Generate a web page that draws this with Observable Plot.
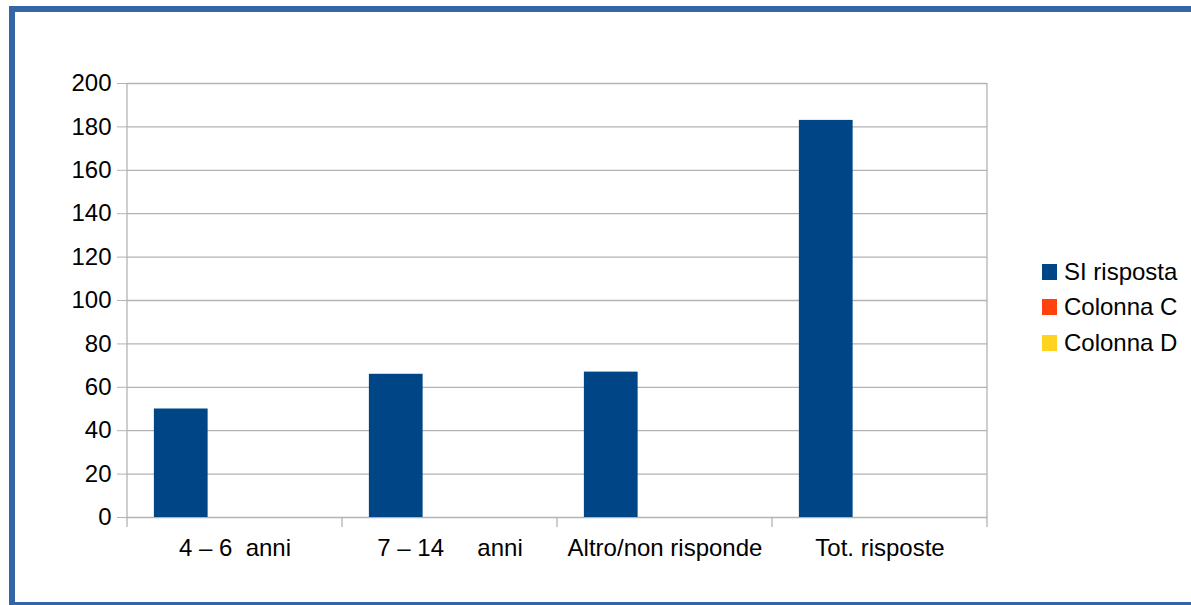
<!DOCTYPE html>
<html>
<head>
<meta charset="utf-8">
<script src="https://cdn.jsdelivr.net/npm/d3@7"></script>
<script src="https://cdn.jsdelivr.net/npm/@observablehq/plot@0.6"></script>
<style>
  html, body { margin: 0; padding: 0; background: #fff; }
  #wrap { position: relative; width: 1191px; height: 605px; overflow: hidden; font-family: "Liberation Sans", Arial, sans-serif; }
  #frame { position: absolute; left: 9px; top: 6px; width: 1220px; height: 602px; border: 6px solid #3465a4; box-sizing: border-box; pointer-events: none; }
  #chart { position: absolute; left: 0; top: 0; }
  #chart svg text { white-space: pre; }
  #legend { position: absolute; left: 1042px; top: 254px; font-size: 24px; color: #000; }
  .item { display: flex; align-items: center; height: 35.5px; }
  .sw { width: 15px; height: 16px; margin-right: 7px; }
</style>
</head>
<body>
<div id="wrap">
  <div id="chart"></div>
  <div id="legend"></div>
  <div id="frame"></div>
</div>
<script>
// ---- data ----
const categories = ["4 – 6  anni", "7 – 14     anni", "Altro/non risponde", "Tot. risposte"];
const seriesNames = ["SI risposta", "Colonna C", "Colonna D"];
const seriesColors = ["#004586", "#ff420e", "#ffd320"];
const siRisposta = [50, 66, 67, 183];
const colonnaC = [null, null, null, null];
const colonnaD = [null, null, null, null];
const yTicks = [0, 20, 40, 60, 80, 100, 120, 140, 160, 180, 200];

const seriesValues = [siRisposta, colonnaC, colonnaD];
const rows = [];
categories.forEach((c, i) => {
  seriesNames.forEach((s, j) => {
    const v = seriesValues[j][i];
    if (v != null) rows.push({cat: c, series: s, value: v});
  });
});

const grid = "#b3b3b3";
const plot = Plot.plot({
  width: 1191,
  height: 605,
  marginLeft: 127,
  marginRight: 204,
  marginTop: 83,
  marginBottom: 88,
  style: {fontFamily: "'Liberation Sans', Arial, sans-serif", fontSize: "24px", color: "#000", background: "transparent"},
  fx: {domain: categories, padding: 0, round: false, axis: null},
  x: {domain: seriesNames, paddingInner: 0, paddingOuter: 0.5, round: false, axis: null},
  y: {domain: [0, 200], axis: null},
  color: {domain: seriesNames, range: seriesColors},
  marks: [
    Plot.gridY(yTicks, {stroke: grid, strokeOpacity: 1, strokeWidth: 1.3}),
    Plot.barY(rows, {fx: "cat", x: "series", y: "value", fill: "series"}),
    Plot.axisY(yTicks, {tickSize: 10, tickPadding: 6, stroke: grid, strokeOpacity: 1, fill: "#000", label: null, fontSize: 24}),
    Plot.axisFx({anchor: "bottom", tickSize: 0, tickPadding: 21, label: null, fill: "#000", fontSize: 24})
  ]
});
document.getElementById("chart").appendChild(plot);

// category boundary lines/ticks from the library's fx and y scales
const fx = plot.scale("fx");
const ys = plot.scale("y");
const y0 = ys.range[0], y1 = ys.range[1];
const svg = d3.select(plot);
const g = svg.append("g").attr("stroke", grid).attr("stroke-width", 1.3);
const n = fx.domain.length;
for (let i = 0; i <= n; i++) {
  const xb = fx.range[0] + i * fx.step;
  const top = (i === 0 || i === n) ? y1 : y0;
  g.append("line").attr("x1", xb).attr("x2", xb).attr("y1", top).attr("y2", y0 + 10);
}

// legend
const leg = d3.select("#legend");
seriesNames.forEach((s, i) => {
  const it = leg.append("div").attr("class", "item");
  it.append("div").attr("class", "sw").style("background", seriesColors[i]);
  it.append("span").text(s);
});
</script>
</body>
</html>
